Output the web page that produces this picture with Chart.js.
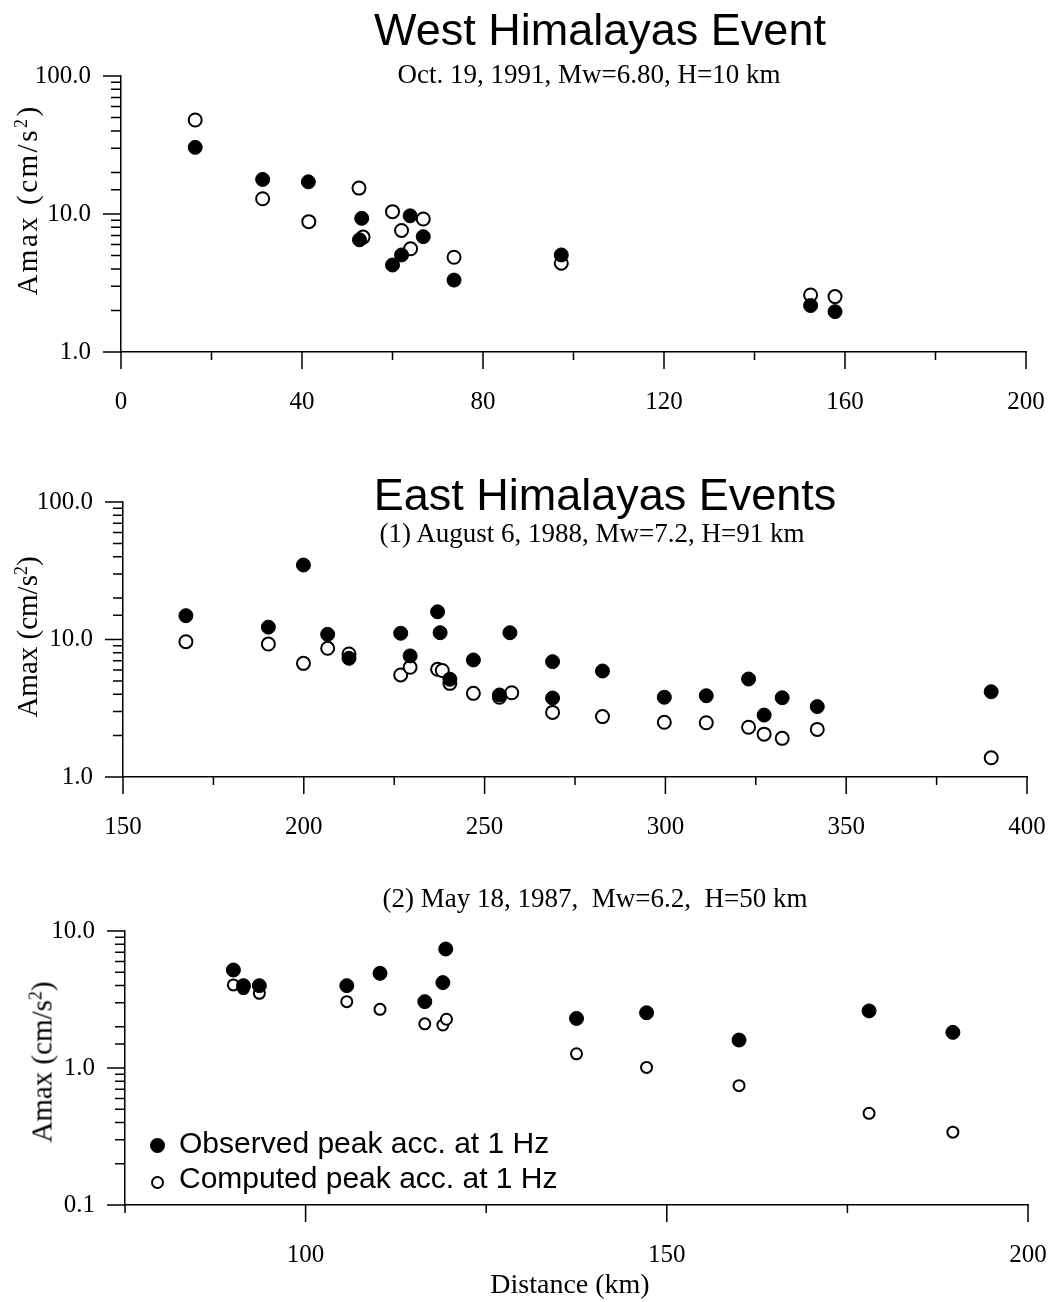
<!DOCTYPE html>
<html>
<head>
<meta charset="utf-8">
<script src="https://cdn.jsdelivr.net/npm/chart.js@4.4.1/dist/chart.umd.min.js"></script>
<style>
html, body { margin: 0; padding: 0; background: #fff; }
#page { position: relative; width: 1058px; height: 1302px; overflow: hidden; background: #fff; }
#page canvas { position: absolute; left: 0; }
.txt { position: absolute; line-height: 1; white-space: pre; color: #000; }
.sans { font-family: "Liberation Sans", Arial, sans-serif; }
.serif { font-family: "Liberation Serif", "Times New Roman", serif; }
.ytitle { position: absolute; white-space: nowrap; line-height: 1; color: #000; transform: translate(-50%, -50%) rotate(-90deg); }
sup { font-size: 62%; vertical-align: 0.55em; line-height: 0; }
.dot { position: absolute; border-radius: 50%; box-sizing: border-box; border: 2px solid #000; }
</style>
</head>
<body>
<div id="page">
  <canvas id="west" width="1058" height="440" style="top:0;width:1058px;height:440px"></canvas>
  <canvas id="east1" width="1058" height="430" style="top:440px;width:1058px;height:430px"></canvas>
  <canvas id="east2" width="1058" height="432" style="top:870px;width:1058px;height:432px"></canvas>
</div>
<script>
// [distance km, Amax cm/s²]
const westObserved = [[16.4, 30.4], [31.3, 17.8], [41.4, 17.1], [53.2, 9.3], [52.7, 6.5], [63.9, 9.7], [66.8, 6.85],
    [62.0, 5.05], [60.0, 4.27], [73.6, 3.32], [97.3, 5.05], [152.4, 2.17], [157.8, 1.96]];
const westComputed = [[16.4, 48], [31.3, 12.9], [41.5, 8.8], [52.6, 15.4], [53.5, 6.8], [60.0, 10.4], [66.8, 9.2],
    [62.0, 7.6], [64.0, 5.6], [73.6, 4.86], [97.3, 4.4], [152.4, 2.59], [157.8, 2.52]];

const east1Observed = [[167.4, 14.9], [190.2, 12.3], [199.9, 34.8], [206.6, 10.9], [212.5, 7.3], [226.8, 11.1],
    [229.4, 7.6], [237.0, 15.9], [237.7, 11.2], [240.4, 5.14], [246.9, 7.1], [254.1, 3.95], [257.0, 11.2],
    [268.8, 6.9], [268.8, 3.75], [282.6, 5.9], [299.7, 3.8], [311.3, 3.9], [323.0, 5.16], [327.3, 2.82],
    [332.3, 3.77], [342.0, 3.25], [390.1, 4.17]];
const east1Computed = [[167.4, 9.64], [190.2, 9.27], [199.9, 6.71], [206.6, 8.63], [212.5, 7.85], [226.8, 5.52],
    [229.4, 6.28], [237.0, 6.07], [238.3, 5.95], [240.4, 4.8], [246.9, 4.06], [254.1, 3.8], [257.5, 4.1],
    [268.8, 2.95], [282.6, 2.75], [299.7, 2.5], [311.3, 2.48], [323.0, 2.3], [327.3, 2.05], [332.3, 1.91],
    [342.0, 2.22], [390.1, 1.38]];

const east2Observed = [[90.0, 5.19], [91.4, 3.99], [93.6, 3.99], [105.7, 3.99], [110.3, 4.91], [116.5, 3.05],
    [119.0, 4.2], [119.4, 7.39], [137.5, 2.3], [147.2, 2.53], [160.0, 1.6], [178.0, 2.61], [189.6, 1.82]];
const east2Computed = [[90.0, 4.04], [91.4, 3.8], [93.6, 3.51], [105.7, 3.05], [110.3, 2.68], [116.5, 2.1],
    [119.0, 2.06], [119.5, 2.27], [137.5, 1.27], [147.2, 1.01], [160.0, 0.743], [178.0, 0.467], [189.6, 0.34]];

// osy: rozsah, krok značek a popsané hodnoty
const westDist = { min: 0, max: 200, step: 20, labels: [0, 40, 80, 120, 160, 200] };
const east1Dist = { min: 150, max: 400, step: 25, labels: [150, 200, 250, 300, 350, 400] };
const east2Dist = { min: 75, max: 200, step: 25, labels: [100, 150, 200] };
const westAmax = { min: 1, max: 100 };
const east1Amax = { min: 1, max: 100 };
const east2Amax = { min: 0.1, max: 10 };

const SERIF = '"Liberation Serif", "Times New Roman", serif';

function isDecade(v) {
    const l = Math.log10(v);
    return Math.abs(l - Math.round(l)) < 1e-6;
}

// Značky na osách ven z grafu: dlouhé u popsaných hodnot, krátké u ostatních.
const axisTicks = {
    id: 'axisTicks',
    afterDraw(chart) {
        const { ctx, chartArea, scales: { x, y } } = chart;
        ctx.save();
        ctx.strokeStyle = '#000';
        ctx.lineWidth = 1.5;
        ctx.beginPath();
        y.ticks.forEach((t) => {
            const py = y.getPixelForValue(t.value);
            ctx.moveTo(chartArea.left, py);
            ctx.lineTo(chartArea.left - (isDecade(t.value) ? 18 : 10), py);
        });
        x.ticks.forEach((t) => {
            const px = x.getPixelForValue(t.value);
            ctx.moveTo(px, chartArea.bottom);
            ctx.lineTo(px, chartArea.bottom + (t.label ? 17 : 8));
        });
        ctx.stroke();
        ctx.restore();
    },
};

function panel(id, p) {
    return new Chart(document.getElementById(id), {
        type: 'scatter',
        data: {
            datasets: [
                {
                    label: 'Observed peak acc. at 1 Hz',
                    data: p.observed.map(([x, y]) => ({ x, y })),
                    pointRadius: 7, pointHoverRadius: 7,
                    pointBackgroundColor: '#000', pointBorderColor: '#000', pointBorderWidth: 1,
                },
                {
                    label: 'Computed peak acc. at 1 Hz',
                    data: p.computed.map(([x, y]) => ({ x, y })),
                    pointRadius: p.openRadius, pointHoverRadius: p.openRadius,
                    pointBackgroundColor: '#fff', pointBorderColor: '#000', pointBorderWidth: 2,
                },
            ],
        },
        options: {
            responsive: false,
            animation: false,
            devicePixelRatio: 1,
            events: [],
            layout: { padding: { top: p.top, right: p.right, left: 0, bottom: 0 } },
            plugins: { legend: { display: false }, tooltip: { enabled: false } },
            scales: {
                x: {
                    type: 'linear', min: p.dist.min, max: p.dist.max,
                    grid: { display: false, drawTicks: false },
                    border: { display: true, color: '#000', width: 1.5 },
                    ticks: {
                        stepSize: p.dist.step, autoSkip: false, maxRotation: 0, padding: 35,
                        color: '#000', font: { family: SERIF, size: 25 },
                        callback: (v) => (p.dist.labels.includes(v) ? String(v) : ''),
                    },
                    // pevná výška osy a žádné boční rezervy, aby plocha grafu seděla s předlohou
                    afterFit: (s) => { s.height = p.xHeight; s.paddingLeft = 0; s.paddingRight = 0; },
                },
                y: {
                    type: 'logarithmic', min: p.amax.min, max: p.amax.max,
                    grid: { display: false, drawTicks: false },
                    border: { display: true, color: '#000', width: 1.5 },
                    ticks: {
                        autoSkip: false, padding: 30,
                        color: '#000', font: { family: SERIF, size: 25 },
                        callback: (v) => (isDecade(v) ? Number(v).toFixed(1) : ''),
                    },
                    afterFit: (s) => { s.width = p.left; s.paddingTop = 0; s.paddingBottom = 0; },
                },
            },
        },
        plugins: [axisTicks],
    });
}

panel('west', { observed: westObserved, computed: westComputed, dist: westDist, amax: westAmax,
    openRadius: 6.5, top: 76, right: 32, left: 121, xHeight: 88 });
panel('east1', { observed: east1Observed, computed: east1Computed, dist: east1Dist, amax: east1Amax,
    openRadius: 6.5, top: 62, right: 31, left: 123, xHeight: 93 });
panel('east2', { observed: east2Observed, computed: east2Computed, dist: east2Dist, amax: east2Amax,
    openRadius: 5.5, top: 61, right: 30, left: 125, xHeight: 97 });

// ── texty (nadpisy, popisky os, legenda) ──────────────────────────────────
const page = document.getElementById('page');

function addText(html, o) {
    const d = document.createElement('div');
    d.className = 'txt ' + o.cls;
    d.style.fontSize = o.size + 'px';
    if (o.spacing) d.style.letterSpacing = o.spacing + 'px';
    d.innerHTML = html;
    const k = o.cls === 'sans' ? 0.8465 : 0.8375;
    d.style.top = (o.base - o.size * k) + 'px';
    d.style.left = o.x + 'px';
    if (o.center) d.style.transform = 'translateX(-50%)';
    page.appendChild(d);
}

function addYTitle(cx, cy, size, spacing) {
    const d = document.createElement('div');
    d.className = 'ytitle serif';
    d.style.fontSize = size + 'px';
    d.style.letterSpacing = spacing + 'px';
    d.style.left = cx + 'px';
    d.style.top = cy + 'px';
    d.innerHTML = 'Amax (cm/s<sup>2</sup>)';
    page.appendChild(d);
}

addText('West Himalayas Event', { cls: 'sans', size: 45, x: 600, base: 45, center: true });
addText('Oct. 19, 1991, Mw=6.80, H=10 km', { cls: 'serif', size: 27, x: 589, base: 84, center: true });
addText('East Himalayas Events', { cls: 'sans', size: 45, x: 605, base: 510, center: true });
addText('(1) August 6, 1988, Mw=7.2, H=91 km', { cls: 'serif', size: 27, x: 592, base: 543, center: true });
addText('(2) May 18, 1987,  Mw=6.2,  H=50 km', { cls: 'serif', size: 27, x: 595, base: 908, center: true });
addText('Distance (km)', { cls: 'serif', size: 28, x: 570, base: 1293, center: true });

addYTitle(27, 200, 29, 2.5);
addYTitle(27, 637, 29, 0);
addYTitle(42, 1062, 29, 0);

// legenda ve třetím panelu
function addDot(cx, cy, d, filled) {
    const el = document.createElement('div');
    el.className = 'dot';
    el.style.width = d + 'px';
    el.style.height = d + 'px';
    el.style.left = (cx - d / 2) + 'px';
    el.style.top = (cy - d / 2) + 'px';
    el.style.background = filled ? '#000' : '#fff';
    page.appendChild(el);
}
addDot(157, 1145, 15, true);
addDot(157, 1182, 13, false);
addText('Observed peak acc. at 1 Hz', { cls: 'sans', size: 30, x: 179, base: 1153.5 });
addText('Computed peak acc. at 1 Hz', { cls: 'sans', size: 30, x: 179, base: 1188.5 });
</script>
</body>
</html>
